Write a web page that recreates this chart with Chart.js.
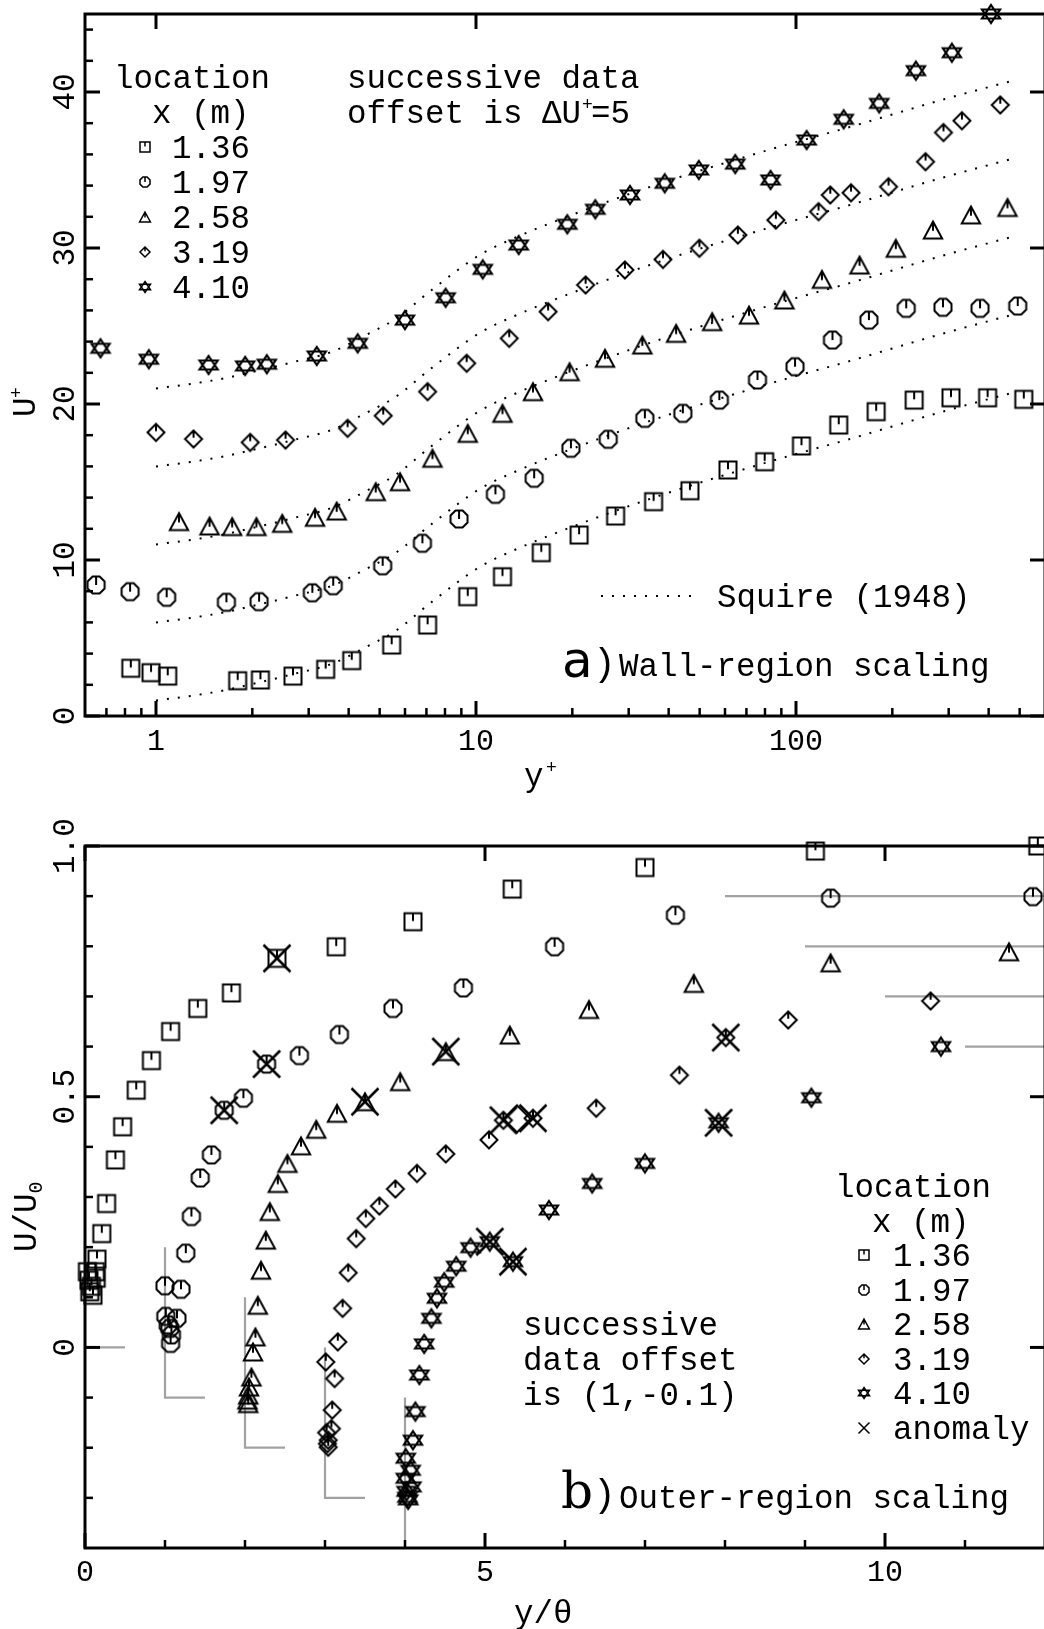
<!DOCTYPE html>
<html>
<head>
<meta charset="utf-8">
<title>Mean velocity profiles: wall and outer scaling</title>
<script src="https://cdn.jsdelivr.net/npm/chart.js@4.4.1/dist/chart.umd.min.js"></script>
<style>
  html, body { margin: 0; padding: 0; background: #fff; overflow: hidden; width: 1044px; height: 1629px; }
  canvas { position: absolute; left: 0; }
  #wall { top: 0; }
  #outer { top: 800px; }
</style>
</head>
<body>
<canvas id="wall" width="1060" height="800" style="width:1060px;height:800px"></canvas>
<canvas id="outer" width="1060" height="829" style="width:1060px;height:829px"></canvas>
<script>
// ---------------------------------------------------------------------------
// Measuring stations (streamwise location x, m)
// ---------------------------------------------------------------------------
const stations = ['1.36', '1.97', '2.58', '3.19', '4.10'];
const stationMarkers = ['square', 'octagon', 'triangle', 'diamond', 'star'];

// ---------------------------------------------------------------------------
// a) Wall-region scaling: y+ and U+ (un-shifted); each station is shifted by ΔU+ = 5
// ---------------------------------------------------------------------------
const wallShift = 5;

const wallYp_136 = [0.834, 0.965, 1.088, 1.80, 2.12, 2.68, 3.39, 4.09, 5.45, 7.06, 9.42, 12.1, 16.0, 21.0, 27.3, 35.9, 46.6, 61.3, 79.8, 104, 136, 178, 234, 305, 397, 515];
const wallUp_136 = [3.06, 2.78, 2.56, 2.26, 2.31, 2.56, 2.99, 3.55, 4.55, 5.83, 7.65, 8.93, 10.47, 11.6, 12.82, 13.74, 14.44, 15.77, 16.3, 17.31, 18.65, 19.51, 20.25, 20.4, 20.4, 20.3];

const wallYp_197 = [0.65, 0.83, 1.08, 1.66, 2.10, 3.08, 3.58, 5.11, 6.80, 8.85, 11.5, 15.2, 19.8, 25.9, 33.7, 44.3, 57.6, 75.8, 99.3, 130, 169, 221, 288, 376, 493];
const wallUp_197 = [3.40, 2.97, 2.61, 2.29, 2.33, 2.90, 3.35, 4.63, 6.07, 7.63, 9.21, 10.24, 12.16, 12.74, 14.08, 14.40, 15.25, 16.54, 17.39, 19.10, 20.38, 21.13, 21.20, 21.13, 21.28];

const wallYp_258 = [1.18, 1.47, 1.73, 2.06, 2.48, 3.14, 3.67, 4.86, 5.79, 7.31, 9.42, 12.1, 15.07, 19.6, 25.3, 33.1, 42.2, 54.7, 71.3, 92, 120.5, 158, 205, 268, 352, 458];
const wallUp_258 = [2.46, 2.18, 2.14, 2.14, 2.35, 2.74, 3.14, 4.38, 5.02, 6.52, 8.12, 9.40, 10.79, 12.07, 12.93, 13.78, 14.53, 15.28, 15.70, 16.67, 17.99, 18.91, 19.98, 21.15, 22.12, 22.60];

const wallYp_319 = [1.0, 1.31, 1.97, 2.54, 3.97, 5.13, 7.06, 9.35, 12.7, 16.8, 22.0, 29.2, 38.4, 49.9, 65.8, 86.5, 117.6, 128, 148.6, 194.6, 254, 289, 330, 435];
const wallUp_319 = [3.18, 2.76, 2.54, 2.69, 3.44, 4.25, 5.79, 7.61, 9.21, 10.92, 12.63, 13.59, 14.27, 14.98, 15.83, 16.79, 17.33, 18.40, 18.54, 18.93, 20.53, 22.40, 23.16, 24.17];

const wallYp_410 = [0.671, 0.95, 1.46, 1.90, 2.22, 3.18, 4.27, 6.0, 8.04, 10.5, 13.6, 19.3, 23.6, 30.3, 38.9, 49.7, 64.6, 83.3, 108, 141, 182, 237, 307, 407];
const wallUp_410 = [3.57, 2.87, 2.50, 2.44, 2.55, 3.08, 3.89, 5.38, 6.81, 8.63, 10.19, 11.52, 12.48, 13.40, 14.15, 15.00, 15.38, 14.36, 16.92, 18.25, 19.27, 21.37, 22.52, 25.0];

// Squire (1948) profile, drawn once per station with the same shift
const squireYp = [1, 1.3, 1.66, 2.0, 2.69, 3.58, 4.55, 5.65, 7.18, 10.3, 13.2, 21.6, 39.4, 89.8, 144, 298, 480];
const squireUp = [1.0, 1.3, 1.67, 2.05, 2.69, 3.38, 4.44, 5.5, 7.22, 9.57, 10.64, 12.39, 14.27, 16.52, 17.7, 19.6, 20.75];

// ---------------------------------------------------------------------------
// b) Outer-region scaling: y/θ and U/U0 (un-shifted); successive offset (1, -0.1)
// ---------------------------------------------------------------------------
const outerShiftT = 1;
const outerShiftV = -0.1;

const outerT_136 = [0.03, 0.05, 0.06, 0.08, 0.10, 0.13, 0.14, 0.15, 0.21, 0.27, 0.38, 0.47, 0.64, 0.83, 1.07, 1.41, 1.83, 2.40, 3.14, 4.10, 5.34, 7.00, 9.13, 11.91];
const outerV_136 = [0.151, 0.134, 0.111, 0.122, 0.104, 0.151, 0.138, 0.176, 0.227, 0.287, 0.374, 0.440, 0.513, 0.572, 0.630, 0.676, 0.707, 0.776, 0.799, 0.849, 0.914, 0.957, 0.99, 1.0];
const anomaly_136 = [17];

const outerT_197 = [0.00, 0.01, 0.04, 0.06, 0.07, 0.08, 0.15, 0.20, 0.26, 0.33, 0.44, 0.58, 0.74, 0.98, 1.27, 1.68, 2.18, 2.85, 3.73, 4.87, 6.38, 8.32, 10.85];
const outerV_197 = [0.223, 0.162, 0.145, 0.138, 0.108, 0.125, 0.158, 0.216, 0.288, 0.361, 0.438, 0.484, 0.573, 0.597, 0.665, 0.682, 0.724, 0.776, 0.817, 0.899, 0.962, 0.996, 0.999];
const anomaly_197 = [12, 14];

const outerT_258 = [0.03, 0.04, 0.04, 0.05, 0.08, 0.10, 0.13, 0.16, 0.20, 0.26, 0.31, 0.41, 0.53, 0.70, 0.89, 1.15, 1.50, 1.94, 2.51, 3.31, 4.30, 5.61, 7.32, 9.55];
const outerV_258 = [0.095, 0.088, 0.105, 0.121, 0.141, 0.191, 0.221, 0.284, 0.354, 0.414, 0.471, 0.527, 0.567, 0.602, 0.635, 0.667, 0.690, 0.730, 0.790, 0.823, 0.874, 0.926, 0.967, 0.989];
const anomaly_258 = [16, 18];

const outerT_319 = [0.01, 0.02, 0.03, 0.04, 0.04, 0.08, 0.09, 0.12, 0.16, 0.22, 0.29, 0.39, 0.51, 0.68, 0.88, 1.15, 1.51, 2.05, 2.23, 2.60, 3.39, 4.43, 5.01, 5.79, 7.57];
const outerV_319 = [0.271, 0.130, 0.108, 0.115, 0.101, 0.138, 0.175, 0.238, 0.311, 0.378, 0.449, 0.517, 0.557, 0.582, 0.616, 0.647, 0.686, 0.714, 0.753, 0.757, 0.777, 0.843, 0.918, 0.953, 0.991];
const anomaly_319 = [18, 19, 22];
const outerT_319wide = [2.40];
const outerV_319wide = [0.756];

const outerT_410 = [0.01, 0.01, 0.02, 0.03, 0.04, 0.07, 0.08, 0.10, 0.13, 0.18, 0.24, 0.33, 0.40, 0.49, 0.64, 0.82, 1.06, 1.35, 1.80, 2.34, 3.00, 3.92, 5.08, 6.70];
const outerV_410 = [0.179, 0.139, 0.113, 0.101, 0.096, 0.155, 0.122, 0.215, 0.272, 0.345, 0.407, 0.458, 0.498, 0.530, 0.562, 0.599, 0.611, 0.571, 0.674, 0.727, 0.767, 0.848, 0.898, 1.000];
const anomaly_410 = [16, 17, 21];

// Reference lines for each station: wall (U/U0 = 0, y = 0) and free stream (U/U0 = 1)
const wallRefT = [0.5, 0, 0];
const wallRefV = [0, 0, 0.3];
const freeRefT = [7, 12];
const freeRefV = [1, 1];

// ---------------------------------------------------------------------------
// Axis ticks and labels
// ---------------------------------------------------------------------------
const wallXTicks = [1, 10, 100];
const wallXTickLabels = ['1', '10', '100'];
const wallXMinor = [0.7, 0.8, 0.9, 2, 3, 4, 5, 6, 7, 8, 9, 20, 30, 40, 50, 60, 70, 80, 90, 200, 300, 400, 500];
const wallYTicks = [0, 10, 20, 30, 40];
const wallYTickLabels = ['0', '10', '20', '30', '40'];
const wallYMinor = [2, 4, 6, 8, 12, 14, 16, 18, 22, 24, 26, 28, 32, 34, 36, 38, 42, 44];

const outerXTicks = [0, 5, 10];
const outerXTickLabels = ['0', '5', '10'];
const outerXMinor = [1, 2, 3, 4, 6, 7, 8, 9, 11];
const outerYTicks = [0, 0.5, 1.0];
const outerYTickLabels = ['0', '0.5', '1.0'];
const outerYMinor = [-0.3, -0.2, -0.1, 0.1, 0.2, 0.3, 0.4, 0.6, 0.7, 0.8, 0.9];

// ---------------------------------------------------------------------------
// Marker glyphs (drawn once into small canvases, used as point styles)
// ---------------------------------------------------------------------------
const MONO = '"Liberation Mono", "DejaVu Sans Mono", monospace';
const TEXT = '32.5px ' + MONO;

function glyph(kind, size, lw) {
  const pad = Math.ceil(lw) + 3;
  let dim = Math.ceil(size) + 2 * pad;
  if (dim % 2) dim += 1;
  const c = document.createElement('canvas');
  c.width = dim; c.height = dim;
  const g = c.getContext('2d');
  g.translate(dim / 2, dim / 2);
  g.strokeStyle = '#000';
  g.lineWidth = lw;
  g.lineJoin = 'miter';
  g.miterLimit = 3;
  const h = size / 2;
  g.beginPath();
  if (kind === 'square') {
    g.rect(-h, -h, size, size);
    g.moveTo(0, -h); g.lineTo(0, -h + size * 0.45);
  } else if (kind === 'octagon') {
    const r = h / Math.cos(Math.PI / 8);
    for (let i = 0; i < 8; i++) {
      const a = -Math.PI / 2 + Math.PI / 8 + i * Math.PI / 4;
      const px = r * Math.cos(a), py = r * Math.sin(a);
      if (i === 0) g.moveTo(px, py); else g.lineTo(px, py);
    }
    g.closePath();
    g.moveTo(0, -h); g.lineTo(0, -h + size * 0.5);
  } else if (kind === 'triangle') {
    g.moveTo(0, -h); g.lineTo(h * 1.08, h); g.lineTo(-h * 1.08, h); g.closePath();
    g.moveTo(0, -h); g.lineTo(0, -h + size * 0.55);
  } else if (kind === 'diamond' || kind === 'wideDiamond') {
    g.moveTo(0, -h); g.lineTo(h, 0); g.lineTo(0, h); g.lineTo(-h, 0); g.closePath();
    if (kind === 'diamond') { g.moveTo(0, -h); g.lineTo(0, -h + size * 0.42); }
  } else if (kind === 'star') {
    g.moveTo(0, -h); g.lineTo(h, h / 2); g.lineTo(-h, h / 2); g.closePath();
    g.moveTo(0, h); g.lineTo(h, -h / 2); g.lineTo(-h, -h / 2); g.closePath();
  } else if (kind === 'cross') {
    g.moveTo(-h, -h); g.lineTo(h, h);
    g.moveTo(h, -h); g.lineTo(-h, h);
  }
  g.stroke();
  return c;
}

const bigGlyph = {
  square: glyph('square', 17, 2),
  octagon: glyph('octagon', 17, 2),
  triangle: glyph('triangle', 17, 2),
  diamond: glyph('diamond', 17, 2),
  star: glyph('star', 18, 2.2),
  cross: glyph('cross', 27, 2.5),
  wideDiamond: glyph('wideDiamond', 27, 2)
};
const smallGlyph = {
  square: glyph('square', 10, 1.5),
  octagon: glyph('octagon', 10, 1.5),
  triangle: glyph('triangle', 10, 1.5),
  diamond: glyph('diamond', 10, 1.5),
  star: glyph('star', 11, 1.5),
  cross: glyph('cross', 11, 1.5)
};

// ---------------------------------------------------------------------------
// Shared drawing helpers for frame, inward ticks and labels
// ---------------------------------------------------------------------------
function drawFrame(chart, t) {
  const { ctx, chartArea: a } = chart;
  const xs = chart.scales.x, ys = chart.scales.y;
  ctx.save();
  ctx.strokeStyle = '#000';
  ctx.lineCap = 'butt';
  const seg = (x1, y1, x2, y2, w) => {
    ctx.lineWidth = w; ctx.beginPath(); ctx.moveTo(x1, y1); ctx.lineTo(x2, y2); ctx.stroke();
  };
  t.xMajor.forEach(v => {
    const p = xs.getPixelForValue(v);
    seg(p, a.bottom, p, a.bottom - 15, 3);
    seg(p, a.top, p, a.top + 15, 3);
  });
  t.xMinor.forEach(v => {
    const p = xs.getPixelForValue(v);
    seg(p, a.bottom, p, a.bottom - 8, 2.5);
  });
  t.yMajor.forEach(v => {
    const p = ys.getPixelForValue(v);
    seg(a.left, p, a.left + 15, p, 3);
    seg(a.right, p, a.right - 15, p, 3);
  });
  t.yMinor.forEach(v => {
    const p = ys.getPixelForValue(v);
    seg(a.left, p, a.left + 8, p, 2.5);
  });
  ctx.lineWidth = 3;
  ctx.strokeRect(a.left, a.top, a.right - a.left, a.bottom - a.top);

  // tick labels
  ctx.fillStyle = '#000';
  ctx.textBaseline = 'alphabetic';
  ctx.textAlign = 'center';
  ctx.font = '30px ' + MONO;
  t.xMajor.forEach((v, i) => ctx.fillText(t.xLabels[i], xs.getPixelForValue(v), t.xLabelBaseline));
  ctx.font = '31px ' + MONO;
  t.yMajor.forEach((v, i) => {
    ctx.save();
    ctx.translate(74, ys.getPixelForValue(v));
    ctx.rotate(-Math.PI / 2);
    ctx.fillText(t.yLabels[i], 0, 0);
    ctx.restore();
  });
  ctx.restore();
}

function say(ctx, str, x, y, font) {
  ctx.font = font;
  ctx.textAlign = 'left';
  ctx.textBaseline = 'alphabetic';
  ctx.fillText(str, x, y);
  return ctx.measureText(str).width;
}

function stamp(ctx, img, x, y) {
  ctx.drawImage(img, Math.round(x - img.width / 2), Math.round(y - img.height / 2));
}

// ---------------------------------------------------------------------------
// a) Wall-region chart
// ---------------------------------------------------------------------------
const wallSeries = [
  { yp: wallYp_136, up: wallUp_136 },
  { yp: wallYp_197, up: wallUp_197 },
  { yp: wallYp_258, up: wallUp_258 },
  { yp: wallYp_319, up: wallUp_319 },
  { yp: wallYp_410, up: wallUp_410 }
];

const wallMarkerSets = wallSeries.map((s, k) => ({
  label: 'x = ' + stations[k] + ' m',
  data: s.yp.map((v, i) => ({ x: v, y: s.up[i] + k * wallShift })),
  pointStyle: bigGlyph[stationMarkers[k]],
  pointRadius: 9,
  clip: false
}));

const squireSets = wallSeries.map((s, k) => ({
  label: 'Squire (1948)',
  data: squireYp.map((v, i) => ({ x: v, y: squireUp[i] + k * wallShift })),
  showLine: true,
  pointRadius: 0,
  borderColor: '#000',
  borderWidth: 2,
  borderDash: [2, 9],
  borderCapStyle: 'butt',
  cubicInterpolationMode: 'monotone',
  fill: false
}));

const wallDecor = {
  id: 'wallDecor',
  afterDraw(chart) {
    const ctx = chart.ctx;
    drawFrame(chart, {
      xMajor: wallXTicks, xMinor: wallXMinor, xLabels: wallXTickLabels, xLabelBaseline: 750,
      yMajor: wallYTicks, yMinor: wallYMinor, yLabels: wallYTickLabels
    });
    ctx.save();
    ctx.fillStyle = '#000';
    const F = TEXT;
    // station key
    say(ctx, 'location', 114, 88, F);
    say(ctx, 'x (m)', 152, 123, F);
    stations.forEach((st, i) => {
      const base = 158 + 35 * i;
      say(ctx, st, 172, base, F);
      stamp(ctx, smallGlyph[stationMarkers[i]], 145, base - 11);
    });
    // offset note
    say(ctx, 'successive data', 347, 88, F);
    let w = say(ctx, 'offset is \u0394U', 347, 123, F);
    say(ctx, '+', 347 + w + 1, 110, '18px ' + MONO);
    say(ctx, '=5', 347 + w + 10, 123, F);
    // Squire key
    ctx.strokeStyle = '#000';
    ctx.lineWidth = 2;
    ctx.setLineDash([2, 9]);
    ctx.beginPath(); ctx.moveTo(601, 596); ctx.lineTo(693, 596); ctx.stroke();
    ctx.setLineDash([]);
    say(ctx, 'Squire (1948)', 717, 607, F);
    // panel caption
    say(ctx, 'a', 562, 677, '50px "DejaVu Sans", sans-serif');
    say(ctx, ')', 593, 675, '38px ' + MONO);
    say(ctx, 'Wall-region scaling', 619, 676, F);
    // axis titles
    say(ctx, 'y', 524, 786, F);
    say(ctx, '+', 546, 773, '18px ' + MONO);
    ctx.translate(35, 417);
    ctx.rotate(-Math.PI / 2);
    say(ctx, 'U', 0, 0, F);
    say(ctx, '+', 19, -13, '18px ' + MONO);
    ctx.restore();
  }
};

new Chart(document.getElementById('wall'), {
  type: 'scatter',
  data: { datasets: [...wallMarkerSets, ...squireSets] },
  options: {
    responsive: false,
    animation: false,
    devicePixelRatio: 1,
    events: [],
    layout: { padding: { left: 85, top: 14, right: 15, bottom: 84 } },
    scales: {
      x: { type: 'logarithmic', min: 0.6, max: 600, bounds: 'data', display: false },
      y: { type: 'linear', min: 0, max: 45, bounds: 'data', display: false }
    },
    plugins: { legend: { display: false }, tooltip: { enabled: false } }
  },
  plugins: [wallDecor]
});

// ---------------------------------------------------------------------------
// b) Outer-region chart
// ---------------------------------------------------------------------------
const outerSeries = [
  { t: outerT_136, v: outerV_136, anomaly: anomaly_136 },
  { t: outerT_197, v: outerV_197, anomaly: anomaly_197 },
  { t: outerT_258, v: outerV_258, anomaly: anomaly_258 },
  { t: outerT_319, v: outerV_319, anomaly: anomaly_319 },
  { t: outerT_410, v: outerV_410, anomaly: anomaly_410 }
];

const outerMarkerSets = [];
const outerAnomalySets = [];
const outerRefSets = [];
outerSeries.forEach((s, k) => {
  const dt = k * outerShiftT, dv = k * outerShiftV;
  outerMarkerSets.push({
    label: 'x = ' + stations[k] + ' m',
    data: s.t.map((v, i) => ({ x: v + dt, y: s.v[i] + dv })),
    pointStyle: bigGlyph[stationMarkers[k]],
    pointRadius: 9,
    clip: false
  });
  outerAnomalySets.push({
    label: 'anomaly',
    data: s.anomaly.map(i => ({ x: s.t[i] + dt, y: s.v[i] + dv })),
    pointStyle: bigGlyph.cross,
    pointRadius: 12,
    clip: false
  });
  const ref = { showLine: true, pointRadius: 0, borderColor: '#a2a2a2', borderWidth: 2.2, fill: false, tension: 0 };
  outerRefSets.push(Object.assign({ label: 'wall', data: wallRefT.map((v, i) => ({ x: v + dt, y: wallRefV[i] + dv })) }, ref));
  outerRefSets.push(Object.assign({ label: 'free stream', data: freeRefT.map((v, i) => ({ x: v + dt, y: freeRefV[i] + dv })) }, ref));
});
outerMarkerSets.push({
  label: 'x = 3.19 m',
  data: outerT_319wide.map((v, i) => ({ x: v + 3 * outerShiftT, y: outerV_319wide[i] + 3 * outerShiftV })),
  pointStyle: bigGlyph.wideDiamond,
  pointRadius: 12,
  clip: false
});

const outerDecor = {
  id: 'outerDecor',
  afterDraw(chart) {
    const ctx = chart.ctx;
    drawFrame(chart, {
      xMajor: outerXTicks, xMinor: outerXMinor, xLabels: outerXTickLabels, xLabelBaseline: 781,
      yMajor: outerYTicks, yMinor: outerYMinor, yLabels: outerYTickLabels
    });
    ctx.save();
    ctx.fillStyle = '#000';
    const F = TEXT;
    // station key
    say(ctx, 'location', 835, 397, F);
    say(ctx, 'x (m)', 872, 432, F);
    stations.forEach((st, i) => {
      const base = 466 + 34.6 * i;
      say(ctx, st, 893, base, F);
      stamp(ctx, smallGlyph[stationMarkers[i]], 864, base - 11);
    });
    say(ctx, 'anomaly', 893, 639, F);
    stamp(ctx, smallGlyph.cross, 864, 628);
    // offset note
    say(ctx, 'successive', 523, 535, F);
    say(ctx, 'data offset', 523, 570, F);
    say(ctx, 'is (1,-0.1)', 523, 605, F);
    // panel caption
    say(ctx, 'b', 561, 708, '50px "DejaVu Serif", serif');
    say(ctx, ')', 593, 706, '38px ' + MONO);
    say(ctx, 'Outer-region scaling', 619, 708, F);
    // axis titles
    say(ctx, 'y/\u03B8', 514, 823, F);
    ctx.translate(36, 452);
    ctx.rotate(-Math.PI / 2);
    const w = say(ctx, 'U/U', 0, 0, F);
    say(ctx, '0', w, 6, '20px ' + MONO);
    ctx.restore();
  }
};

new Chart(document.getElementById('outer'), {
  type: 'scatter',
  data: { datasets: [...outerAnomalySets, ...outerMarkerSets, ...outerRefSets] },
  options: {
    responsive: false,
    animation: false,
    devicePixelRatio: 1,
    events: [],
    layout: { padding: { left: 85, top: 46, right: 15, bottom: 81 } },
    scales: {
      x: { type: 'linear', min: 0, max: 12, bounds: 'data', display: false },
      y: { type: 'linear', min: -0.4, max: 1.0, bounds: 'data', display: false }
    },
    plugins: { legend: { display: false }, tooltip: { enabled: false } }
  },
  plugins: [outerDecor]
});
</script>
</body>
</html>
